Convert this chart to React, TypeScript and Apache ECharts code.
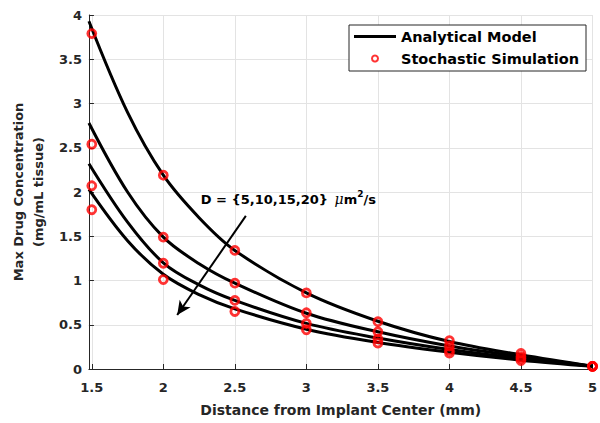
import React, { useEffect, useRef } from "react";
import * as echarts from "echarts";

// Distance from implant center (mm)
const lineX = [1.48, 1.75, 2, 2.25, 2.5, 3, 3.5, 4, 4.5, 5];
const lineD5 = [3.93, 2.9, 2.19, 1.71, 1.34, 0.86, 0.54, 0.31, 0.16, 0.03];
const lineD10 = [2.78, 2.0, 1.49, 1.19, 0.97, 0.63, 0.42, 0.26, 0.14, 0.03];
const lineD15 = [2.32, 1.66, 1.2, 0.95, 0.775, 0.515, 0.35, 0.22, 0.12, 0.03];
const lineD20 = [2.03, 1.45, 1.07, 0.84, 0.68, 0.45, 0.3, 0.19, 0.1, 0.03];

const simX = [1.5, 2, 2.5, 3, 3.5, 4, 4.5, 5];
const simD5 = [3.79, 2.19, 1.34, 0.86, 0.535, 0.32, 0.175, 0.03];
const simD10 = [2.54, 1.49, 0.97, 0.635, 0.42, 0.26, 0.14, 0.03];
const simD15 = [2.07, 1.195, 0.775, 0.515, 0.34, 0.21, 0.12, 0.03];
const simD20 = [1.8, 1.01, 0.65, 0.443, 0.294, 0.18, 0.095, 0.03];

const xTicks = [1.5, 2, 2.5, 3, 3.5, 4, 4.5, 5];

const arrowFrom = [2.577, 1.73];
const arrowTo = [2.097, 0.61];
const annotAt = [2.261, 1.92];

const FONT = "DejaVu Sans";
const AXIS_COLOR = "#262626";

const zip = (xs: number[], ys: number[]) => xs.map((x, i) => [x, ys[i]]);

export default function App() {
  const ref = useRef<HTMLDivElement>(null);
  useEffect(() => {
    if (!ref.current) return;
    const chart = echarts.init(ref.current, undefined, { renderer: "svg" });
    const lineSets = [lineD5, lineD10, lineD15, lineD20];
    const simSets = [simD5, simD10, simD15, simD20];
    const lineSeries: any[] = lineSets.map((ys, i) => ({
      type: "line",
      name: "Analytical Model",
      data: zip(lineX, ys),
      smooth: 0.35,
      symbol: "none",
      showSymbol: false,
      lineStyle: { color: "#000", width: 3 },
      itemStyle: { color: "#000" },
      z: 2,
      ...(i === 0
        ? {
            markLine: {
              silent: true,
              symbol: ["none", "arrow"],
              symbolSize: [10, 14],
              lineStyle: { color: "#000", width: 2, type: "solid" },
              label: { show: false },
              data: [[{ coord: arrowFrom }, { coord: arrowTo }]],
            },
            markPoint: {
              silent: true,
              symbol: "circle",
              symbolSize: 0,
              data: [
                {
                  coord: annotAt,
                  label: {
                    show: true,
                    position: "right",
                    distance: 0,
                    formatter: "D = {5,10,15,20} {mu|\u03bc}{b|m}{sup|2}{b|/s}",
                    color: "#000",
                    fontFamily: FONT,
                    fontWeight: "bold",
                    fontSize: 13,
                    lineHeight: 20,
                    rich: {
                      b: { fontFamily: FONT, fontWeight: "bold", fontSize: 13, lineHeight: 20, color: "#000" },
                      mu: { fontFamily: "DejaVu Serif", fontStyle: "italic", fontWeight: "normal", fontSize: 14, lineHeight: 20, color: "#000", padding: [0, 0, 0, 2] },
                      sup: { fontFamily: FONT, fontWeight: "bold", fontSize: 9, lineHeight: 10, verticalAlign: "top", color: "#000" },
                    },
                  },
                },
              ],
            },
          }
        : {}),
    }));
    const simSeries: any[] = simSets.map((ys) => ({
      type: "scatter",
      name: "Stochastic Simulation",
      data: zip(simX, ys),
      symbol: "circle",
      symbolSize: 8,
      itemStyle: { color: "rgba(0,0,0,0)", borderColor: "#ff0000", borderWidth: 2.8 },
      z: 3,
    }));

    chart.setOption({
      animation: false,
      backgroundColor: "#fff",
      grid: { left: 83, right: 3.5, top: 15, bottom: 50, containLabel: false },
      legend: {
        data: [
          { name: "Analytical Model", icon: "path://M0,0L42,0L42,3L0,3Z" },
          { name: "Stochastic Simulation", icon: "circle" },
        ],
        orient: "vertical",
        left: 349,
        top: 25,
        padding: [4, 7, 5, 5],
        itemGap: 7,
        itemWidth: 42,
        itemHeight: 6,
        symbolKeepAspect: true,
        backgroundColor: "#fff",
        borderColor: "#262626",
        borderWidth: 1,
        borderRadius: 0,
        selectedMode: false,
        textStyle: { fontFamily: FONT, fontWeight: "bold", fontSize: 14.5, color: "#000", padding: [0, 0, 0, 0] },
        z: 10,
      },
      xAxis: {
        type: "value",
        min: 1.48,
        max: 5,
        name: "Distance from Implant Center (mm)",
        nameLocation: "middle",
        nameGap: 33,
        nameTextStyle: { fontFamily: FONT, fontWeight: "bold", fontSize: 14, color: AXIS_COLOR, lineHeight: 16 },
        axisLine: { show: true, onZero: false, lineStyle: { color: AXIS_COLOR, width: 1 } },
        axisTick: { show: true, inside: true, length: 5, customValues: xTicks, lineStyle: { color: AXIS_COLOR } },
        axisLabel: { customValues: xTicks, margin: 12, fontFamily: FONT, fontWeight: "bold", fontSize: 13, color: AXIS_COLOR },
        splitLine: { show: true, lineStyle: { color: "#e3e3e3", width: 1 } },
      },
      yAxis: {
        type: "value",
        min: 0,
        max: 4,
        interval: 0.5,
        name: "Max Drug Concentration\n(mg/mL tissue)",
        nameLocation: "middle",
        nameRotate: 90,
        nameGap: 36,
        nameTextStyle: { fontFamily: FONT, fontWeight: "bold", fontSize: 13, color: AXIS_COLOR, lineHeight: 20 },
        axisLine: { show: true, lineStyle: { color: AXIS_COLOR, width: 1 } },
        axisTick: { show: true, inside: true, length: 5, lineStyle: { color: AXIS_COLOR } },
        axisLabel: { margin: 7, fontFamily: FONT, fontWeight: "bold", fontSize: 13, color: AXIS_COLOR },
        splitLine: { show: true, lineStyle: { color: "#e3e3e3", width: 1 } },
      },
      series: [...lineSeries, ...simSeries],
    });
    return () => chart.dispose();
  }, []);
  return (
    <div
      ref={ref}
      style={{ position: "fixed", left: 0, top: 0, width: 600, height: 423, background: "#fff" }}
    />
  );
}
